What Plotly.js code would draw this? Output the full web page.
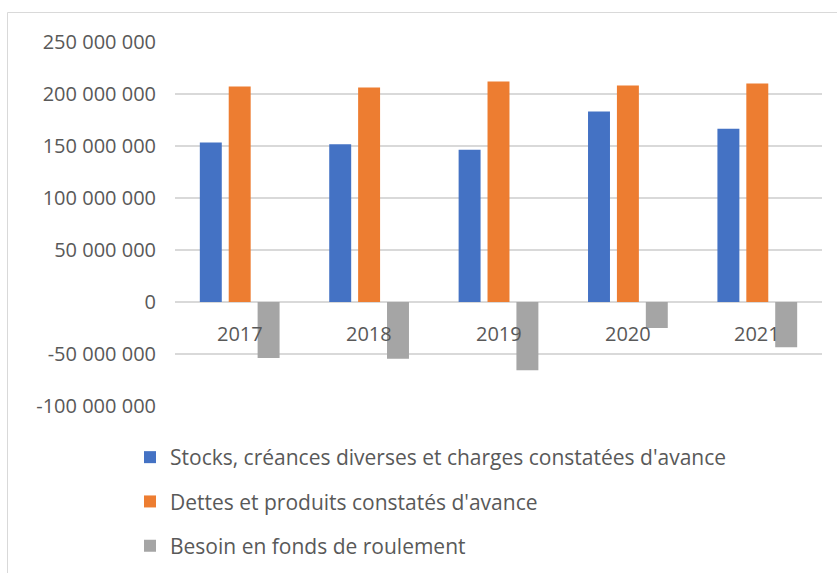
<!DOCTYPE html>
<html>
<head>
<meta charset="utf-8">
<script src="https://cdn.plot.ly/plotly-3.0.1.min.js"></script>
<style>html,body{margin:0;padding:0;background:#fff;}#chart{width:837px;height:573px;}</style>
</head>
<body>
<div id="chart"></div>
<script>
const years = ['2017', '2018', '2019', '2020', '2021'];
const stocks = [153400000, 151700000, 146300000, 183200000, 166500000];
const dettes = [207200000, 206200000, 212000000, 208200000, 210100000];
const bfr = [-53800000, -54500000, -65700000, -25000000, -43600000];
const seriesNames = [
  'Stocks, créances diverses et charges constatées d\'avance',
  'Dettes et produits constatés d\'avance',
  'Besoin en fonds de roulement'
];
const yTickVals = [-100000000, -50000000, 0, 50000000, 100000000, 150000000, 200000000, 250000000];
const yTickLabels = ['-100 000 000', '-50 000 000', '0', '50 000 000', '100 000 000', '150 000 000', '200 000 000', '250 000 000'];

const FONT = '"Open Sans", sans-serif';
const TXT = '#595959';
const colors = ['#4472C4', '#ED7D31', '#A5A5A5'];
const vals = [stocks, dettes, bfr];

const data = vals.map((v, i) => ({
  type: 'bar',
  x: years,
  y: v,
  name: seriesNames[i],
  legendgroup: 'g' + i,
  marker: {color: colors[i], line: {width: 0}},
  hoverinfo: 'none'
}));

const annotations = years.map(yr => ({
  x: yr, y: 0, xref: 'x', yref: 'y',
  text: yr, showarrow: false,
  yanchor: 'middle', xanchor: 'center', yshift: -31,
  font: {family: FONT, size: 20, color: TXT}
}));

const layout = {
  width: 837, height: 573,
  margin: {l: 175, r: 15, t: 42, b: 167, autoexpand: false},
  paper_bgcolor: '#fff', plot_bgcolor: '#fff',
  barmode: 'group', bargap: 0.33, bargroupgap: 0.24,
  font: {family: FONT, size: 20, color: TXT},
  xaxis: {showticklabels: false, showgrid: false, zeroline: false, showline: false, ticks: ''},
  yaxis: {
    range: [-100000000, 250000000],
    tickvals: yTickVals, ticktext: yTickLabels,
    showgrid: true, gridcolor: '#d9d9d9', gridwidth: 1.5,
    zeroline: true, zerolinecolor: '#d9d9d9', zerolinewidth: 1.5,
    showline: false, ticks: '', ticklabelstandoff: 18,
    tickfont: {family: FONT, size: 20, color: TXT}
  },
  showlegend: true,
  legend: {
    orientation: 'v',
    xref: 'container', yref: 'container',
    x: 130 / 837, y: 1 - 437 / 573,
    xanchor: 'left', yanchor: 'top',
    tracegroupgap: 14,
    font: {family: FONT, size: 21, color: TXT},
    bgcolor: 'rgba(0,0,0,0)'
  },
  annotations: annotations,
  shapes: [{
    type: 'rect', xref: 'paper', yref: 'paper',
    x0: (7.5 - 175) / 647, x1: (845 - 175) / 647,
    y0: (406 - 590) / 364, y1: (406 - 12.5) / 364,
    line: {color: '#d9d9d9', width: 1}, fillcolor: 'rgba(0,0,0,0)', layer: 'below'
  }]
};

Plotly.newPlot('chart', data, layout, {displayModeBar: false, staticPlot: true});
</script>
</body>
</html>
